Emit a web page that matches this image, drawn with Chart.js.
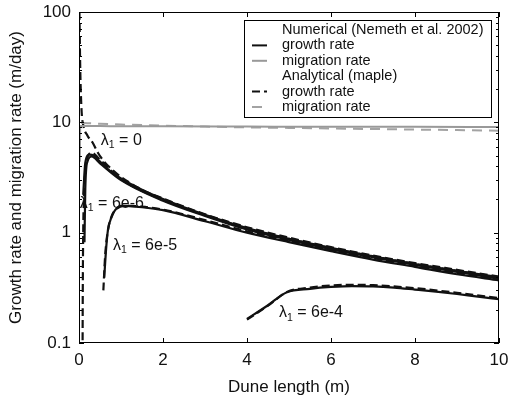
<!DOCTYPE html>
<html>
<head>
<meta charset="utf-8">
<script src="https://cdn.jsdelivr.net/npm/chart.js@4.4.0/dist/chart.umd.min.js"></script>
<style>
   html, body { margin: 0; padding: 0; background: #fff; }
</style>
</head>
<body>
<canvas id="myChart" width="509" height="399"></canvas>
<script>
// Numerical growth rate, lambda1 = 0
const numGrowth0X = [0.1, 0.15, 0.25, 0.35, 0.5, 0.75, 1, 1.5, 2, 3, 4, 5, 6, 7, 8, 9, 10];
const numGrowth0Y = [2.2, 4.3, 5.1, 5.0, 4.4, 3.6, 3.1, 2.45, 2.02, 1.45, 1.1, 0.88, 0.73, 0.61, 0.52, 0.45, 0.395];
// Numerical growth rate, lambda1 = 6e-6
const numGrowth1X = [0.13, 0.15, 0.2, 0.3, 0.5, 1, 2, 3, 4, 5, 6, 7, 8, 9, 10];
const numGrowth1Y = [0.82, 2.5, 4.4, 4.9, 4.25, 3.0, 1.95, 1.42, 1.07, 0.86, 0.71, 0.6, 0.51, 0.44, 0.385];
// Numerical growth rate, lambda1 = 6e-5
const numGrowth2X = [0.6, 0.65, 0.69, 0.78, 0.86, 1.0, 1.5, 2, 3, 4, 5, 6, 7, 8, 9, 10];
const numGrowth2Y = [0.39, 0.75, 1.06, 1.4, 1.6, 1.75, 1.7, 1.6, 1.27, 1.0, 0.82, 0.68, 0.57, 0.49, 0.42, 0.37];
// Numerical growth rate, lambda1 = 6e-4
const numGrowth3X = [4.0, 4.5, 4.95, 5.5, 6, 6.5, 7, 7.5, 8, 8.5, 9, 9.5, 10];
const numGrowth3Y = [0.165, 0.22, 0.289, 0.31, 0.322, 0.328, 0.326, 0.318, 0.305, 0.292, 0.278, 0.263, 0.25];
// Numerical migration rate
const numMigrX = [0.02, 0.03, 0.05, 0.5, 1, 2, 4, 6, 8, 10];
const numMigrY = [4.4, 9.2, 9.25, 9.25, 9.2, 9.2, 9.15, 9.1, 9.1, 9.05];

// Analytical growth rate (maple)
const anaGrowth0X = [0.01, 0.03, 0.06, 0.1, 0.2, 0.33, 0.45, 0.6, 0.8, 1, 1.5, 2, 3, 4, 5, 6, 7, 8, 9, 10];
const anaGrowth0Y = [100, 30, 13, 9.5, 7.6, 6.5, 5.3, 4.4, 3.7, 3.2, 2.45, 2.04, 1.47, 1.12, 0.9, 0.74, 0.62, 0.53, 0.46, 0.4];
const anaGrowth1X = [0.083, 0.09, 0.1, 0.12, 0.15, 0.2, 0.3, 0.45, 0.6, 1, 2, 3, 4, 5, 6, 7, 8, 9, 10];
const anaGrowth1Y = [0.05, 0.3, 1.0, 2.2, 3.6, 4.8, 5.3, 4.8, 4.2, 3.05, 1.98, 1.44, 1.09, 0.88, 0.72, 0.61, 0.52, 0.45, 0.39];
const anaGrowth2X = [0.58, 0.62, 0.68, 0.78, 0.9, 1.1, 1.5, 2, 3, 4, 5, 6, 7, 8, 9, 10];
const anaGrowth2Y = [0.3, 0.6, 1.0, 1.42, 1.65, 1.75, 1.72, 1.62, 1.3, 1.03, 0.84, 0.7, 0.59, 0.5, 0.43, 0.38];
const anaGrowth3X = [4.0, 4.5, 4.95, 5.5, 6, 6.5, 7, 8, 9, 10];
const anaGrowth3Y = [0.163, 0.218, 0.29, 0.318, 0.332, 0.337, 0.334, 0.314, 0.285, 0.255];
// Analytical migration rate
const anaMigrX = [0.05, 0.5, 1, 2, 3, 4, 5, 6, 7, 8, 9, 10];
const anaMigrY = [9.9, 9.7, 9.55, 9.35, 9.15, 9.0, 8.9, 8.8, 8.7, 8.6, 8.5, 8.4];

// Curve labels
const curveLabels = ["0", "6e-6", "6e-5", "6e-4"];
const curveLabelX = [0.52, 0.02, 0.81, 4.76];
const curveLabelY = [6.9, 1.85, 0.77, 0.187];

const xTicks = [0, 2, 4, 6, 8, 10];
const yTicks = [0.1, 1, 10, 100];

const legendLines = [
   { text: "Numerical (Nemeth et al. 2002)" },
   { text: "growth rate", color: "#111", dash: [] },
   { text: "migration rate", color: "#999", dash: [] },
   { text: "Analytical (maple)" },
   { text: "growth rate", color: "#111", dash: [8, 4] },
   { text: "migration rate", color: "#a3a3a3", dash: [10, 7] }
];

const FONT = "'Liberation Sans', Arial, Helvetica, sans-serif";

function toPoints(xs, ys) {
   return xs.map((x, i) => ({ x: x, y: ys[i] }));
}

function line(xs, ys, color, dash, width) {
   return {
      data: toPoints(xs, ys),
      borderColor: color,
      borderWidth: width,
      borderDash: dash,
      pointRadius: 0,
      fill: false,
      cubicInterpolationMode: "monotone"
   };
}

// box frame, inward ticks, legend and lambda labels
const extras = {
   id: "extras",
   afterDatasetsDraw(chart) {
      const c = chart.ctx;
      const a = chart.chartArea;
      const xs = chart.scales.x;
      const ys = chart.scales.y;
      c.save();
      c.strokeStyle = "#000";
      c.lineWidth = 1;
      c.strokeRect(a.left + 0.5, a.top + 0.5, a.right - a.left - 1, a.bottom - a.top - 1);

      c.beginPath();
      xTicks.forEach(v => {
         let px = Math.round(xs.getPixelForValue(v)) + 0.5;
         c.moveTo(px, a.bottom); c.lineTo(px, a.bottom - 5);
         c.moveTo(px, a.top); c.lineTo(px, a.top + 5);
      });
      for (let d = 0.1; d < 100; d *= 10) {
         for (let m = 1; m <= 10; m++) {
            let v = d * m;
            let len = (m === 1 || m === 10) ? 5 : 3;
            let py = Math.round(ys.getPixelForValue(v)) + 0.5;
            c.moveTo(a.left, py); c.lineTo(a.left + len, py);
            c.moveTo(a.right, py); c.lineTo(a.right - len, py);
         }
      }
      c.stroke();

      // curve labels
      c.fillStyle = "#111";
      c.textBaseline = "middle";
      c.textAlign = "left";
      curveLabels.forEach((t, i) => {
         let px = xs.getPixelForValue(curveLabelX[i]);
         let py = ys.getPixelForValue(curveLabelY[i]);
         c.font = "16px " + FONT;
         c.fillText("\u03bb", px, py);
         px += c.measureText("\u03bb").width;
         c.font = "10.5px " + FONT;
         c.fillText("1", px, py + 5);
         px += c.measureText("1").width;
         c.font = "16px " + FONT;
         c.fillText(" = " + t, px, py);
      });

      // legend
      const boxL = a.right - 255, boxT = a.top + 8, boxW = 247, boxH = 97;
      c.fillStyle = "#fff";
      c.fillRect(boxL, boxT, boxW, boxH);
      c.strokeStyle = "#000";
      c.lineWidth = 1;
      c.strokeRect(boxL + 0.5, boxT + 0.5, boxW, boxH);
      c.font = "14.5px " + FONT;
      c.fillStyle = "#111";
      legendLines.forEach((item, i) => {
         let py = boxT + 10 + i * 15.4;
         if (item.color) {
            c.beginPath();
            c.setLineDash(item.dash);
            c.strokeStyle = item.color;
            c.lineWidth = 2;
            c.moveTo(boxL + 8, py); c.lineTo(boxL + 23, py);
            c.stroke();
            c.setLineDash([]);
         }
         c.fillText(item.text, boxL + 38, py);
      });
      c.restore();
   }
};

let ctx = document.getElementById('myChart').getContext('2d');
let myChart = new Chart(ctx, {
   type: "line",
   data: {
      datasets: [
         line(numMigrX, numMigrY, "#999", [], 2),
         line(anaMigrX, anaMigrY, "#a3a3a3", [10, 7], 2),
         line(numGrowth0X, numGrowth0Y, "#111", [], 2.2),
         line(numGrowth1X, numGrowth1Y, "#111", [], 2.2),
         line(numGrowth2X, numGrowth2Y, "#111", [], 2.2),
         line(numGrowth3X, numGrowth3Y, "#111", [], 2.2),
         line(anaGrowth0X, anaGrowth0Y, "#111", [8, 4], 2.2),
         line(anaGrowth1X, anaGrowth1Y, "#111", [8, 4], 2.2),
         line(anaGrowth2X, anaGrowth2Y, "#111", [8, 4], 2.2),
         line(anaGrowth3X, anaGrowth3Y, "#111", [8, 4], 2.2)
      ]
   },
   options: {
      responsive: false,
      animation: false,
      layout: { padding: { top: 12, right: 10, left: 0, bottom: 0 } },
      plugins: { legend: { display: false }, tooltip: { enabled: false } },
      scales: {
         x: {
            type: "linear",
            min: 0,
            max: 10,
            // fixed box; no extra room for the end labels
            afterFit: s => { s.height = 56; s.paddingLeft = 0; s.paddingRight = 0; },
            afterBuildTicks: s => { s.ticks = xTicks.map(v => ({ value: v })); },
            grid: { drawOnChartArea: false, drawTicks: false },
            border: { display: false },
            ticks: { color: "#111", padding: 7, font: { family: FONT, size: 17 } },
            title: { display: true, text: "Dune length (m)", color: "#111", padding: { top: 0, bottom: 1 }, font: { family: FONT, size: 17 } }
         },
         y: {
            type: "logarithmic",
            min: 0.1,
            max: 100,
            afterFit: s => { s.width = 79; s.paddingTop = 0; s.paddingBottom = 0; },
            afterBuildTicks: s => { s.ticks = yTicks.map(v => ({ value: v })); },
            grid: { drawOnChartArea: false, drawTicks: false },
            border: { display: false },
            ticks: { color: "#111", padding: 8, font: { family: FONT, size: 17 }, callback: v => String(v) },
            title: { display: true, text: "Growth rate and migration rate (m/day)", color: "#111", padding: { top: 6, bottom: 0 }, font: { family: FONT, size: 17 } }
         }
      }
   },
   plugins: [extras]
});
</script>
</body>
</html>
